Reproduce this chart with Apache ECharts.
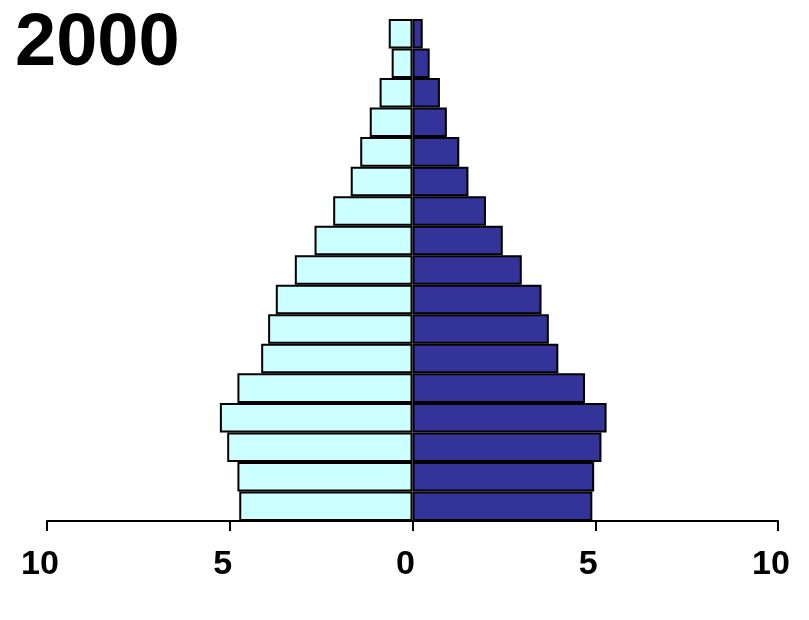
<!DOCTYPE html>
<html>
<head>
    <meta http-equiv="content-type" content="text/html; charset=utf-8">
    <title>2000</title>
    <script src="https://cdn.jsdelivr.net/npm/echarts@6/dist/echarts.min.js"></script>
    <style type="text/css">
    html, body {margin:0;padding:0;background:#fff;}
    #main {width:809px;height:620px;}
    </style>
</head>
<body>
    <div id="main"></div>
    <script>
    // age groups, youngest first (bottom of the pyramid)
    var ageGroups = ['0-4','5-9','10-14','15-19','20-24','25-29','30-34','35-39','40-44',
                     '45-49','50-54','55-59','60-64','65-69','70-74','75-79','80+'];
    // left side (light), percent
    var leftValues = [4.74, 4.79, 5.07, 5.27, 4.79, 4.14, 3.95, 3.74, 3.22,
                      2.68, 2.17, 1.69, 1.43, 1.17, 0.90, 0.57, 0.65];
    // right side (dark), percent
    var rightValues = [4.92, 4.97, 5.17, 5.31, 4.72, 3.99, 3.73, 3.53, 2.99,
                       2.47, 2.01, 1.53, 1.28, 0.94, 0.75, 0.47, 0.28];
    var tickLabels = [-10, -5, 0, 5, 10];

    var chart = echarts.init(document.getElementById('main'));
    var font = '"Liberation Sans", Arial, sans-serif';

    var option = {
        backgroundColor: '#fff',
        animation: false,
        title: {
            text: '2000',
            left: 10,
            top: 3,
            textStyle: {
                fontFamily: font,
                fontWeight: 'bold',
                fontSize: 74,
                color: '#000'
            }
        },
        grid: {
            left: 47,
            right: 31,
            top: 19,
            bottom: 99,
            containLabel: false
        },
        xAxis: {
            type: 'value',
            min: tickLabels[0],
            max: tickLabels[tickLabels.length - 1],
            interval: 5,
            axisLine: {show: true, lineStyle: {color: '#000', width: 2}},
            axisTick: {show: true, length: 10, lineStyle: {color: '#000', width: 2}},
            splitLine: {show: false},
            axisLabel: {
                margin: 27,
                padding: [0, 14, 0, 0],
                fontFamily: font,
                fontWeight: 'bold',
                fontSize: 34,
                color: '#000',
                formatter: function (v) { return Math.abs(v); }
            }
        },
        yAxis: {
            type: 'category',
            data: ageGroups,
            show: false
        },
        series: [
            {
                name: 'left',
                type: 'bar',
                stack: 'pyr',
                barCategoryGap: 0,
                data: leftValues.map(function (v) { return -v; }),
                itemStyle: {color: '#ccffff', borderColor: '#000', borderWidth: 2}
            },
            {
                name: 'right',
                type: 'bar',
                stack: 'pyr',
                barCategoryGap: 0,
                data: rightValues,
                itemStyle: {color: '#333399', borderColor: '#000', borderWidth: 2}
            }
        ]
    };
    chart.setOption(option);
    </script>
</body>
</html>
